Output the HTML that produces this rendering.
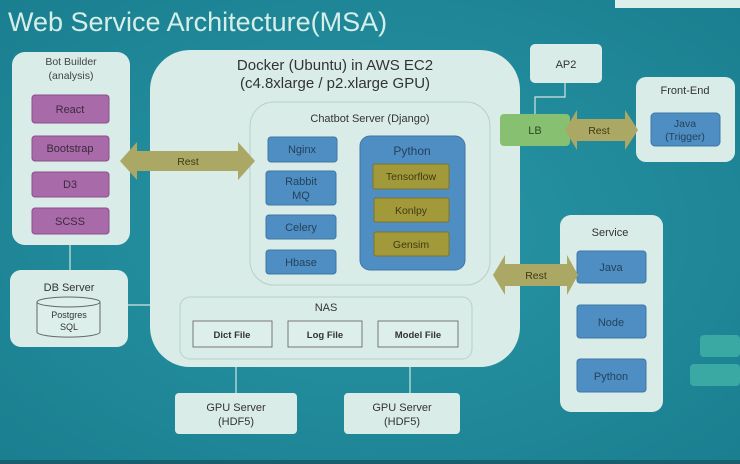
<!DOCTYPE html>
<html><head><style>
body{margin:0;width:740px;height:464px;overflow:hidden;background:#1f8b9c;}
svg{display:block}
text{font-family:"Liberation Sans",sans-serif;}
</style></head><body>
<svg width="740" height="464" viewBox="0 0 740 464">
<defs>
<radialGradient id="bg" cx="50%" cy="50%" r="70%"><stop offset="0" stop-color="#2896a6"/><stop offset="1" stop-color="#1a7f90"/></radialGradient>
</defs>
<rect width="740" height="464" fill="url(#bg)"/>
<rect x="0" y="460" width="740" height="4" fill="#15606c"/>
<rect x="615" y="-5" width="130" height="13" fill="#dcefea"/>
<text x="8" y="31" font-size="27" fill="#d6eee8" font-family="DejaVu Sans">Web Service Architecture(MSA)</text>

<g stroke="#cfe6e0" stroke-width="1.2" fill="none">
<line x1="70" y1="245" x2="70" y2="270"/>
<polyline points="128,305 165,305 165,255 180,255"/>
<polyline points="250,255 232,255 232,296"/>
<line x1="236" y1="367" x2="236" y2="393"/>
<line x1="410" y1="367" x2="410" y2="393"/>
<polyline points="565,83 565,97 535,97 535,114"/>
</g>

<rect x="12" y="52" width="118" height="193" rx="13" fill="#d9ece8"/>
<text x="71" y="65" font-size="10.5" text-anchor="middle" fill="#444">Bot Builder</text>
<text x="71" y="79" font-size="10.5" text-anchor="middle" fill="#444">(analysis)</text>
<g fill="#a96aa9" stroke="#8a4e8c">
<rect x="32" y="95" width="77" height="28" rx="3"/>
<rect x="32" y="136" width="77" height="25" rx="3"/>
<rect x="32" y="172" width="77" height="25" rx="3"/>
<rect x="32" y="208" width="77" height="26" rx="3"/>
</g>
<g font-size="11" text-anchor="middle" fill="#3c2a3c">
<text x="70" y="113">React</text><text x="70" y="152">Bootstrap</text><text x="70" y="188">D3</text><text x="70" y="225">SCSS</text>
</g>

<rect x="10" y="270" width="118" height="77" rx="11" fill="#d9ece8"/>
<text x="69" y="291" font-size="11" text-anchor="middle" fill="#333">DB Server</text>
<path d="M37,302 v30 a31,5 0 0 0 63,0 v-30" fill="#dcefea" stroke="#666"/>
<ellipse cx="68.5" cy="302" rx="31.5" ry="5" fill="#dcefea" stroke="#666"/>
<text x="69" y="318" font-size="9" text-anchor="middle" fill="#333">Postgres</text>
<text x="69" y="330" font-size="9" text-anchor="middle" fill="#333">SQL</text>

<rect x="150" y="50" width="370" height="317" rx="40" fill="#d9ece8"/>
<text x="335" y="70" font-size="15" text-anchor="middle" fill="#333">Docker (Ubuntu) in AWS EC2</text>
<text x="335" y="88" font-size="15" text-anchor="middle" fill="#333">(c4.8xlarge / p2.xlarge GPU)</text>
<rect x="250" y="102" width="240" height="183" rx="24" fill="#d9ece8" stroke="#b8cfcb"/>
<text x="370" y="122" font-size="11" text-anchor="middle" fill="#333">Chatbot Server (Django)</text>
<g fill="#4f8ec2" stroke="#3e77a6">
<rect x="268" y="137" width="69" height="25" rx="3"/>
<rect x="266" y="171" width="70" height="34" rx="3"/>
<rect x="266" y="215" width="70" height="24" rx="3"/>
<rect x="266" y="250" width="70" height="24" rx="3"/>
<rect x="360" y="136" width="105" height="134" rx="10"/>
</g>
<g font-size="11" text-anchor="middle" fill="#23425e">
<text x="302" y="153">Nginx</text><text x="301" y="185">Rabbit</text><text x="301" y="199">MQ</text>
<text x="301" y="231">Celery</text><text x="301" y="266">Hbase</text>
<text x="412" y="155" font-size="12">Python</text>
</g>
<g fill="#a29a3a" stroke="#7c7428">
<rect x="373" y="164" width="76" height="25" rx="2"/>
<rect x="374" y="198" width="75" height="24" rx="2"/>
<rect x="374" y="232" width="75" height="24" rx="2"/>
</g>
<g font-size="10.5" text-anchor="middle" fill="#3e3a14">
<text x="411" y="180">Tensorflow</text><text x="411" y="214">Konlpy</text><text x="411" y="248">Gensim</text>
</g>
<rect x="180" y="297" width="292" height="62" rx="10" fill="#d9ece8" stroke="#b8cfcb"/>
<text x="326" y="311" font-size="11" text-anchor="middle" fill="#333">NAS</text>
<g fill="#dcefea" stroke="#777">
<rect x="193" y="321" width="79" height="26"/><rect x="288" y="321" width="74" height="26"/><rect x="378" y="321" width="80" height="26"/>
</g>
<g font-size="9.5" font-weight="bold" text-anchor="middle" fill="#333">
<text x="232" y="338">Dict  File</text><text x="325" y="338">Log File</text><text x="418" y="338">Model File</text>
</g>

<rect x="175" y="393" width="122" height="41" rx="4" fill="#d9ece8"/>
<rect x="344" y="393" width="116" height="41" rx="4" fill="#d9ece8"/>
<g font-size="11" text-anchor="middle" fill="#333">
<text x="236" y="411">GPU Server</text><text x="236" y="425">(HDF5)</text>
<text x="402" y="411">GPU Server</text><text x="402" y="425">(HDF5)</text>
</g>

<rect x="530" y="44" width="72" height="39" rx="5" fill="#d9ece8"/>
<text x="566" y="68" font-size="11" text-anchor="middle" fill="#333">AP2</text>
<rect x="500" y="114" width="70" height="32" rx="4" fill="#88c072"/>
<text x="535" y="134" font-size="11" text-anchor="middle" fill="#2b4a22">LB</text>
<rect x="636" y="77" width="99" height="85" rx="10" fill="#d9ece8"/>
<text x="685" y="94" font-size="11" text-anchor="middle" fill="#333">Front-End</text>
<rect x="651" y="113" width="69" height="33" rx="4" fill="#4f8ec2" stroke="#3e77a6"/>
<text x="685" y="127" font-size="10.5" text-anchor="middle" fill="#23425e">Java</text>
<text x="685" y="140" font-size="10.5" text-anchor="middle" fill="#23425e">(Trigger)</text>

<rect x="560" y="215" width="103" height="197" rx="11" fill="#d9ece8"/>
<text x="610" y="236" font-size="11" text-anchor="middle" fill="#333">Service</text>
<g fill="#4f8ec2" stroke="#3e77a6">
<rect x="577" y="251" width="69" height="32" rx="3"/><rect x="577" y="305" width="69" height="33" rx="3"/><rect x="577" y="359" width="69" height="33" rx="3"/>
</g>
<g font-size="11" text-anchor="middle" fill="#23425e">
<text x="611" y="271">Java</text><text x="611" y="326">Node</text><text x="611" y="380">Python</text>
</g>

<g fill="#aba865">
<polygon points="120,161 137,142 137,151 238,151 238,142 255,161 238,180 238,171 137,171 137,180"/>
<polygon points="565,130 577,110 577,119 625,119 625,110 638,130 625,150 625,141 577,141 577,150"/>
<polygon points="493,275 505,255 505,264 567,264 567,255 578,275 567,295 567,286 505,286 505,295"/>
</g>
<g font-size="10.5" text-anchor="middle" fill="#3e3a14">
<text x="188" y="165">Rest</text><text x="599" y="134">Rest</text><text x="536" y="279">Rest</text>
</g>

<rect x="700" y="335" width="40" height="22" rx="4" fill="#3aa9a4"/>
<rect x="690" y="364" width="50" height="22" rx="4" fill="#3aa9a4"/>
</svg>
</body></html>
